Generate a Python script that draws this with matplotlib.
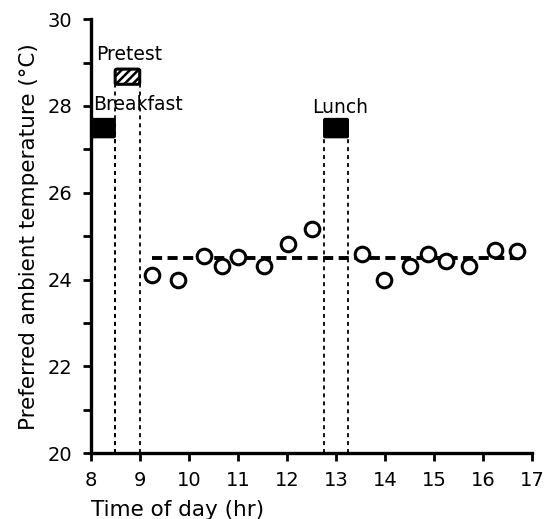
import matplotlib
matplotlib.use("Agg")
import matplotlib.pyplot as plt
from matplotlib.patches import FancyBboxPatch

# Data
times = [9.26, 9.78, 10.30, 10.68, 11.01, 11.53, 12.02, 12.52,
         13.52, 13.98, 14.50, 14.87, 15.24, 15.70, 16.23, 16.68]
temps = [24.11, 24.00, 24.55, 24.32, 24.53, 24.32, 24.83, 25.17,
         24.58, 24.00, 24.32, 24.60, 24.42, 24.32, 24.68, 24.65]
mean_level = 24.5
mean_span = [9.25, 16.72]

meals = {"Breakfast": (8.0, 8.5), "Lunch": (12.75, 13.25)}
pretest = (8.5, 9.0)
bar_y = (27.27, 27.71)
pretest_y = (28.5, 28.85)

xticks = list(range(8, 18))
yticks = [20, 22, 24, 26, 28, 30]
yminor = [21, 23, 25, 27, 29]

plt.rcParams['hatch.linewidth'] = 1.8
fig = plt.figure(figsize=(5.46, 5.19), dpi=100)
ax = fig.add_axes([0.166, 0.127, 0.809, 0.836])

ax.set_xlim(8, 17)
ax.set_ylim(20, 30)

# dotted lines
for x in meals["Breakfast"][1:]:
    ax.plot([x, x], [20, bar_y[0]], ls=(0, (2.2, 2.2)), lw=1.3, color='black')
for x in pretest:
    ax.plot([x, x], [20, pretest_y[0]], ls=(0, (2.2, 2.2)), lw=1.3, color='black')
for x in meals["Lunch"]:
    ax.plot([x, x], [20, bar_y[0]], ls=(0, (2.2, 2.2)), lw=1.3, color='black')

# meal bars
for name, (x0, x1) in meals.items():
    ax.add_patch(FancyBboxPatch((x0, bar_y[0]), x1 - x0, bar_y[1] - bar_y[0],
                                boxstyle="round,pad=0,rounding_size=0.03",
                                facecolor='black', edgecolor='black', lw=1,
                                mutation_aspect=1/1.1, zorder=3, clip_on=False))
ax.add_patch(FancyBboxPatch((pretest[0], pretest_y[0]), pretest[1] - pretest[0],
                            pretest_y[1] - pretest_y[0],
                            boxstyle="round,pad=0,rounding_size=0.04",
                            facecolor='white', edgecolor='black', lw=2.2,
                            hatch='////', mutation_aspect=1/1.1, zorder=3))

fs = 13.5
ax.text(8.06, 28.03, "Breakfast", fontsize=fs, ha='left', va='center')
ax.text(8.78, 29.19, "Pretest", fontsize=fs, ha='center', va='center')
ax.text(13.08, 27.97, "Lunch", fontsize=fs, ha='center', va='center')

# mean line
ax.plot(mean_span, [mean_level, mean_level], ls=(0, (2.6, 1.4)), lw=2.8,
        color='black', zorder=2)

# points
ax.plot(times, temps, 'o', ms=10.5, mfc='white', mec='black', mew=2.2,
        ls='none', zorder=4)

# axes styling
for s in ['top', 'right']:
    ax.spines[s].set_visible(False)
for s in ['left', 'bottom']:
    ax.spines[s].set_linewidth(2.4)
ax.set_xticks(xticks)
ax.set_yticks(yticks)
ax.set_yticks(yminor, minor=True)
ax.tick_params(axis='both', which='both', direction='out', length=6, width=2,
               labelsize=14, pad=7)
ax.tick_params(axis='y', which='minor', length=6, width=2)
ax.set_xlabel("Time of day (hr)", fontsize=15.5, loc='left', labelpad=7)
ax.set_ylabel("Preferred ambient temperature (°C)", fontsize=15.5, labelpad=6)

fig.savefig("out.png", dpi=100)
